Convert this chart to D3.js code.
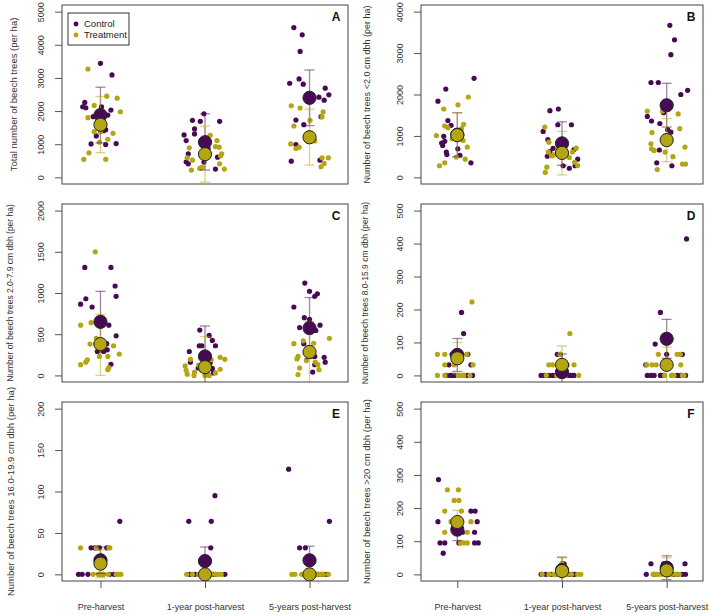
<!DOCTYPE html>
<html>
<head>
<meta charset="utf-8">
<script src="https://cdn.jsdelivr.net/npm/d3@7"></script>
<style>
  body { margin: 0; background: #fff; }
  svg { display: block; font-family: "Liberation Sans", Arial, sans-serif; }
</style>
</head>
<body>
<svg id="chart" width="709" height="615"></svg>
<script>
var categories = ["Pre-harvest", "1-year post-harvest", "5-years post-harvest"];
var groups = ["Control", "Treatment"];
var panelLetters = ["A", "B", "C", "D", "E", "F"];
var yTitles = [
    "Total number of beech trees (per ha)",
    "Number of beech trees <2.0 cm dbh (per ha)",
    "Number of beech trees 2.0-7.9 cm dbh (per ha)",
    "Number of beech trees 8.0-15.9 cm dbh (per ha)",
    "Number of beech trees 16.0-19.9 cm dbh (per ha)",
    "Number of beech trees >20 cm dbh (per ha)"
];
var yMax = [5000, 4000, 2000, 500, 200, 500];
var yStep = [1000, 1000, 500, 100, 50, 100];

// plot values, one list per harvest period
var ctrlA = [[3440,3090,2260,2130,2100,2130,2030,1880,1830,1440,1410,1250,1010,990,1020],
             [1920,1720,1690,1690,1460,1280,1310,1110,710,470,410,460,610,250,870],
             [4520,4300,3800,2840,2970,2810,2690,2490,2420,2330,1730,1590,1830,990,490,520]];
var treatA = [[3270,2450,2390,2170,1980,1800,1380,1330,1600,1380,1060,740,545,545,1150],
              [1270,1110,910,930,890,710,650,590,520,410,270,220,250,300,1200],
              [2160,2090,1550,1720,1980,1830,1010,870,910,1100,590,590,420,320,1350]];
var ctrlB = [[2390,2130,1840,1370,1255,990,870,830,770,690,610,550,530,350,1010],
             [1610,1650,1270,1270,1110,910,700,620,510,670,440,280,220,280,820],
             [3670,3320,2960,2290,2290,2100,2000,1470,1360,1560,1300,1090,1150,660,350,280]];
var treatB = [[1940,1750,1650,1280,1240,1200,1010,890,730,490,440,350,280,930,1180],
              [1215,850,610,705,365,285,245,120,545,650,610,480,520,860,720],
              [1600,1600,1530,1175,1080,810,690,650,610,730,500,320,320,190,1000]];
var ctrlC = [[1310,1310,1085,960,930,865,830,610,480,385,310,290,290,135,420],
             [550,485,425,360,360,360,290,160,155,10,85,90,50,100,30],
             [1120,1020,990,960,830,680,610,580,385,545,230,220,160,130,40,700]];
var treatC = [[1500,610,640,450,385,360,230,230,260,130,190,160,70,95,380],
              [195,115,60,15,0,220,195,75,30,125,60,0,190,40,0],
              [450,385,530,230,90,10,420,390,160,180,250,130,200,70,530]];
var ctrlD = [[191,127,64,64,64,32,32,0,0,0,0,0,0,0,64],
             [0,0,0,0,0,0,64,64,0,0,0,0,0,0],
             [414,191,95,64,32,0,0,0,0,0,0,0,0,64,0]];
var treatD = [[223,64,64,32,32,0,0,0,0,0,32,0,64],
              [127,32,32,32,0,0,0,0,32,64],
              [64,64,64,32,32,32,32,32,0,0,0,0,32,0]];
var ctrlE = [[64,32,32,32,32,32,0,0,0,0,0,0,0],
             [95,64,64,32,0,0,0,0,0,0,0,0],
             [127,64,32,32,0,0,0,0,0,0,0,0]];
var treatE = [[32,32,32,0,0,0,0,0,0,0,0,32],
              [0,0,0,0,0,0,0,0,0,0],
              [0,0,0,0,0,0,0,0,0,0]];
var ctrlF = [[286,159,191,191,159,127,95,95,95,95,95,64,127,159,127],
             [0,0,0,0,32,0,0,0,0,32],
             [32,32,0,0,0,0,0,0,32,32]];
var treatF = [[255,255,223,223,191,159,127,127,95,95,95,159,159,191],
              [0,0,0,0,0,0,32,0,0,0],
              [0,0,0,0,0,32,0,0,0]];

// horizontal jitter of each value above, in category units
var ctrlAJit = [[0,.11,-.15,-.17,-.14,.01,.10,.07,-.07,.05,.03,-.04,-.09,.05,.15],
                [-.01,-.12,-.045,.14,-.10,-.20,-.10,-.18,-.16,-.18,-.16,-.01,.12,.10,.03],
                [-.15,-.07,-.09,-.19,-.10,-.06,.15,.185,.09,.14,-.13,-.055,.11,-.13,-.175,.10]];
var treatAJit = [[-.12,.06,.16,-.06,.19,-.12,-.06,.12,.04,0,-.01,-.11,-.16,.05,.07],
                 [.05,.115,.135,.10,-.15,.16,.15,-.17,-.12,.14,-.05,-.13,.185,-.03,.02],
                 [-.175,-.09,-.15,.005,.13,.12,-.18,-.13,-.10,.05,.12,.18,.14,.11,0]];
var ctrlBJit = [[.16,-.11,-.185,-.09,-.06,-.13,-.12,-.15,-.14,.005,-.105,-.10,.025,.13,-.02],
                [-.115,-.035,-.04,.09,-.18,-.135,-.085,-.115,-.14,.115,.15,.125,.07,.01,0],
                [.03,.075,.04,-.15,-.08,.2,.135,-.185,-.145,-.03,-.065,.04,.01,-.07,-.095,.05]];
var treatBJit = [[.105,.006,-.13,.06,-.12,-.09,-.2,.055,.095,-.01,.075,-.12,-.17,-.05,.04],
                 [-.165,-.125,-.13,.135,.12,.15,-.145,-.16,-.075,-.045,.1,.07,-.1,.02,-.02],
                 [-.185,-.04,.11,.125,-.14,-.15,-.145,-.12,-.015,.175,.06,.15,.18,-.09,0]];
var ctrlCJit = [[-.15,.10,.14,.15,-.14,-.19,-.08,.08,.15,.06,.065,-.03,.03,.10,0],
                [-.05,.04,.07,.10,-.055,-.03,-.15,-.14,.05,.005,.07,-.065,.02,-.02,.08],
                [-.045,0,.075,.05,-.15,0,.1,-.095,-.055,.06,.05,.14,.15,.05,.03,-.05]];
var treatCJit = [[-.05,-.19,-.09,-.04,-.045,.125,-.01,.07,.18,-.19,-.125,-.14,.07,.08,-.1],
                 [-.14,-.19,-.18,-.17,-.105,.145,.19,.145,.1,-.06,-.03,.04,.06,-.1,0],
                 [.19,-.15,-.02,-.11,-.095,-.11,-.06,.04,.055,-.03,.02,.08,-.12,.09,.01]];
var ctrlDJit = [[.04,.06,-.05,-.01,.1,-.08,.13,-.11,-.07,-.05,-.025,.06,.1,.145,0],
                [-.2,-.165,-.125,-.09,.075,.115,-.045,-.015,0,.04,-.06,.02,.1,.06],
                [.19,-.06,-.11,.15,-.2,-.185,-.15,-.12,-.06,.05,.1,.135,.18,0,-.03]];
var treatDJit = [[.14,-.19,-.12,-.12,.15,-.19,-.12,.01,.03,.12,-.03,.06,.09],
                 [.075,-.125,-.09,.115,.16,-.15,.03,-.05,.05,-.02],
                 [-.08,.1,.13,-.19,-.14,-.1,-.04,.135,.15,.165,.05,-.02,0,.07]];
var ctrlEJit = [[.185,-.09,-.055,-.03,-.01,.06,-.21,-.175,-.12,-.015,.025,.09,.13],
                [.095,-.155,.06,.055,-.145,-.095,-.05,.08,.19,.1,0,.03],
                [-.2,.19,-.095,-.04,.135,.085,.165,0,.03,-.02,.06,.11]];
var treatEJit = [[-.19,.09,.08,-.07,.075,.17,.195,.15,-.02,0,.03,-.04],
                 [-.175,.13,.155,.03,-.06,-.12,.1,0,.06,-.03],
                 [-.17,-.14,-.075,.1,.18,.07,0,.04,-.04,.13]];
var ctrlFJit = [[-.18,-.185,.13,.17,.19,.165,-.165,-.12,.015,.165,.2,-.135,0,-.03,.05],
                [-.2,-.155,.1,.12,0,.03,-.05,.07,-.1,.02],
                [-.15,.175,-.195,-.12,.1,.15,.18,.07,0,-.03]];
var treatFJit = [[-.095,.01,-.03,.015,-.12,.13,-.12,.095,.03,.06,.095,0,-.06,.04],
                 [-.19,-.125,-.08,-.045,.18,.15,0,.05,-.02,.09],
                 [-.08,-.05,.04,.085,-.13,0,.02,.12,-.1]];

// group means and error bar ends, panels A..F, per period
var meanCtrl  = [[1880,1060,2400],[1030,820,1740],[650,230,575],[62,10,111],[17,16,17],[135,13,20]];
var loCtrl    = [[1040,220,1560],[500,290,1215],[280,-140,205],[12,-45,52],[1,0,0],[102,-25,-16]];
var hiCtrl    = [[2720,1920,3240],[1560,1340,2270],[1020,600,945],[112,65,170],[33,33,34],[170,52,56]];
var meanTreat = [[1590,700,1210],[1020,590,900],[380,100,285],[52,32,32],[13,0,0],[158,10,12]];
var loTreat   = [[745,-145,370],[480,60,380],[0,-270,-85],[5,-25,-22],[-4,-16,-16],[122,-30,-25]];
var hiTreat   = [[2440,1545,2060],[1560,1110,1420],[740,470,655],[100,89,86],[30,16,16],[193,50,50]];

var ctrlVals = [ctrlA, ctrlB, ctrlC, ctrlD, ctrlE, ctrlF];
var treatVals = [treatA, treatB, treatC, treatD, treatE, treatF];
var ctrlJit = [ctrlAJit, ctrlBJit, ctrlCJit, ctrlDJit, ctrlEJit, ctrlFJit];
var treatJit = [treatAJit, treatBJit, treatCJit, treatDJit, treatEJit, treatFJit];

var colors = { Control: "#490a55", Treatment: "#b4a512" };

// panel frame positions
var cols = [{ x0: 62, x1: 348, pad: 0.368 }, { x0: 421, x1: 703, pad: 0.347 }];
var rows = [{ y0: 5, y1: 184 }, { y0: 204, y1: 382 }, { y0: 402, y1: 581 }];
var titleOffset = [45, 51, 49.5, 53.5, 48.5, 51];
var titleSize = [9.5, 9, 8.5, 8.5, 9.5, 9.5];

var svg = d3.select("#chart");

function toPoints(vals, jit) {
    var out = [];
    vals.forEach(function (list, ci) {
        list.forEach(function (v, k) {
            out.push({ c: ci, j: jit[ci][k], v: v });
        });
    });
    return out;
}

panelLetters.forEach(function (letter, p) {
    var col = cols[p % 2], row = rows[Math.floor(p / 2)];

    var x = d3.scaleLinear()
        .domain([-col.pad, categories.length - 1 + col.pad])
        .range([col.x0, col.x1]);
    var y = d3.scaleLinear()
        .domain([-0.04 * yMax[p], 1.04 * yMax[p]])
        .range([row.y1, row.y0]);

    var g = svg.append("g");

    g.append("clipPath").attr("id", "clip" + p)
        .append("rect")
        .attr("x", col.x0).attr("y", row.y0)
        .attr("width", col.x1 - col.x0).attr("height", row.y1 - row.y0);

    // y axis, labels turned like base R
    var yAxis = d3.axisLeft(y)
        .tickValues(d3.range(0, yMax[p] + 1, yStep[p]))
        .tickFormat(d3.format("d"))
        .tickSize(7).tickSizeOuter(0);
    var ya = g.append("g").attr("transform", "translate(" + col.x0 + ",0)").call(yAxis);
    ya.select(".domain").remove();
    ya.selectAll("line").attr("stroke", "#555");
    ya.selectAll("text")
        .attr("x", 0).attr("y", -18).attr("dy", null)
        .attr("transform", "rotate(-90)")
        .attr("text-anchor", "middle")
        .attr("fill", "#333")
        .style("font-size", "9px");

    g.append("text")
        .attr("transform", "translate(" + (col.x0 - titleOffset[p]) + "," + ((row.y0 + row.y1) / 2) + ") rotate(-90)")
        .attr("text-anchor", "middle")
        .attr("fill", "#333")
        .style("font-size", titleSize[p] + "px")
        .text(yTitles[p]);

    if (p >= 4) {
        var xAxis = d3.axisBottom(x).tickValues([0, 1, 2]).tickSize(7).tickSizeOuter(0)
            .tickFormat(function (d) { return categories[d]; });
        var xa = g.append("g").attr("transform", "translate(0," + row.y1 + ")").call(xAxis);
        xa.select(".domain").remove();
        xa.selectAll("line").attr("stroke", "#555");
        xa.selectAll("text").attr("y", 29).attr("dy", null)
            .attr("fill", "#333").style("font-size", "9px");
    }

    var plot = g.append("g").attr("clip-path", "url(#clip" + p + ")");

    // raw plot values
    [["Control", ctrlVals[p], ctrlJit[p]], ["Treatment", treatVals[p], treatJit[p]]].forEach(function (s) {
        plot.selectAll("circle.pt-" + s[0])
            .data(toPoints(s[1], s[2]))
            .enter()
            .append("circle")
            .attr("class", "pt-" + s[0])
            .attr("cx", function (d) { return x(d.c + d.j); })
            .attr("cy", function (d) { return y(d.v); })
            .attr("r", 2.6)
            .attr("fill", colors[s[0]]);
    });

    // error bars then means
    var summary = [["Control", meanCtrl[p], loCtrl[p], hiCtrl[p]], ["Treatment", meanTreat[p], loTreat[p], hiTreat[p]]];
    summary.forEach(function (s) {
        var bars = plot.selectAll("g.eb-" + s[0])
            .data([0, 1, 2])
            .enter()
            .append("g")
            .attr("class", "eb-" + s[0])
            .attr("stroke", colors[s[0]])
            .attr("stroke-opacity", 0.5)
            .attr("stroke-width", 1.3);
        bars.append("line")
            .attr("x1", function (c) { return x(c); }).attr("x2", function (c) { return x(c); })
            .attr("y1", function (c) { return y(s[2][c]); })
            .attr("y2", function (c) { return y(s[3][c]); });
        [2, 3].forEach(function (k) {
            bars.append("line")
                .attr("x1", function (c) { return x(c) - 5; }).attr("x2", function (c) { return x(c) + 5; })
                .attr("y1", function (c) { return y(s[k][c]); })
                .attr("y2", function (c) { return y(s[k][c]); });
        });
    });
    summary.forEach(function (s) {
        plot.selectAll("circle.mean-" + s[0])
            .data(s[1])
            .enter()
            .append("circle")
            .attr("class", "mean-" + s[0])
            .attr("cx", function (d, i) { return x(i); })
            .attr("cy", function (d) { return y(d); })
            .attr("r", 6.6)
            .attr("fill", colors[s[0]])
            .attr("stroke", "#222")
            .attr("stroke-width", 1);
    });

    g.append("rect")
        .attr("x", col.x0).attr("y", row.y0)
        .attr("width", col.x1 - col.x0).attr("height", row.y1 - row.y0)
        .attr("fill", "none").attr("stroke", "#444").attr("stroke-width", 1);

    g.append("text")
        .attr("x", col.x1 - 12).attr("y", row.y0 + 16)
        .attr("text-anchor", "middle")
        .style("font-size", "12px").style("font-weight", "bold")
        .attr("fill", "#111")
        .text(letter);

    // legend only in the first panel
    if (p === 0) {
        var lg = g.append("g");
        lg.append("rect").attr("x", 68).attr("y", 13).attr("width", 61).attr("height", 32)
            .attr("fill", "#fff").attr("stroke", "#333").attr("stroke-width", 1);
        groups.forEach(function (name, i) {
            lg.append("circle").attr("cx", 76).attr("cy", 24 + i * 11).attr("r", 2.4)
                .attr("fill", colors[name]);
            lg.append("text").attr("x", 84).attr("y", 24 + i * 11).attr("dy", "0.35em")
                .style("font-size", "9.5px").attr("fill", "#222").text(name);
        });
    }
});
</script>
</body>
</html>
